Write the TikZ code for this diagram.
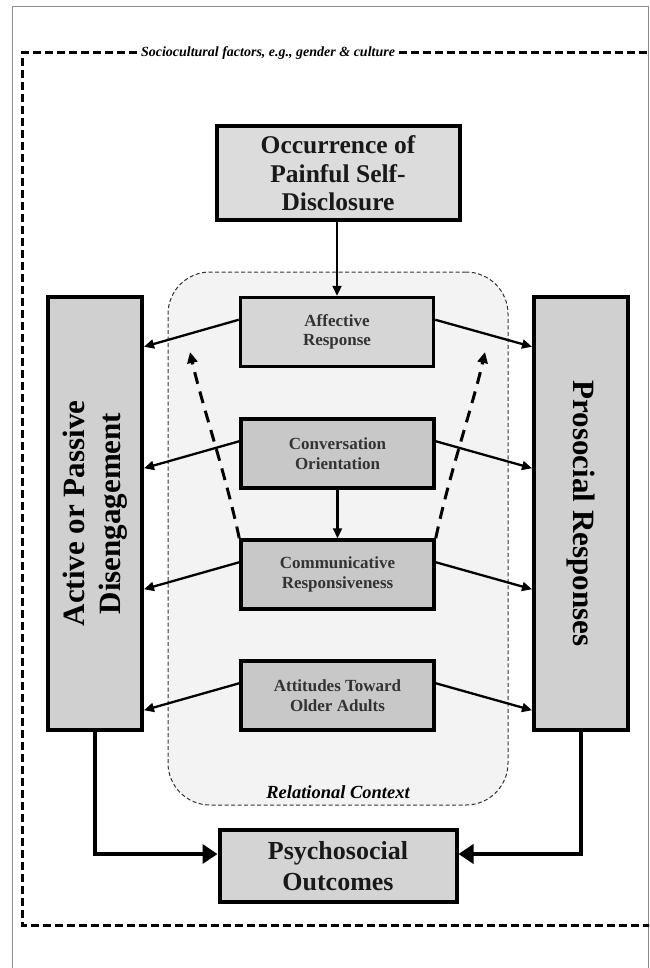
\documentclass[tikz,border=0pt]{standalone}
\usepackage{fontspec}
\setmainfont{Liberation Serif}
\usetikzlibrary{arrows.meta,calc}
\definecolor{topfill}{HTML}{DCDCDC}
\definecolor{sidefill}{HTML}{D0D0D0}
\definecolor{afffill}{HTML}{D6D6D6}
\definecolor{midfill}{HTML}{C8C8C8}
\definecolor{psyfill}{HTML}{D4D4D4}
\definecolor{relfill}{HTML}{F3F3F3}
\definecolor{midtext}{HTML}{333333}
\definecolor{framegray}{HTML}{8C8C8C}
\begin{document}
\begin{tikzpicture}[x=1pt,y=-1pt,
  bigbox/.style={draw=black, line width=4pt, inner sep=0pt, align=center, text=black!90},
  midbox/.style={draw=black, line width=3.5pt, inner sep=0pt, align=center,
    minimum width=193pt, minimum height=69pt, text=midtext,
    font=\fontsize{17}{19.5}\selectfont\bfseries},
  arr/.style={line width=2.3pt, -{Triangle[length=10pt,width=9pt]}},
  bigarr/.style={line width=4pt, -{Triangle[length=15pt,width=19pt]}},
  dasharr/.style={line width=3pt, dash pattern=on 12pt off 8pt, -{Triangle[length=11pt,width=10pt]}},
  outerdash/.style={line width=3pt, dash pattern=on 8pt off 4pt},
]
\useasboundingbox (0,0) rectangle (649,968);
\fill[white] (0,0) rectangle (649,968);
\clip (0,0) rectangle (649,968);

% thin outer frame
\draw[framegray, line width=1pt] (12,980) -- (12,7) -- (648,7) -- (648,980);

% sociocultural dashed frame
\node[inner sep=4pt, font=\fontsize{14}{17}\selectfont\bfseries\itshape] (soc) at (268,53)
  {Sociocultural factors, e.g., gender \& culture};
\draw[outerdash] (soc.west) -- (22,53) -- (22,925) -- (670,925);
\draw[outerdash] (soc.east) -- (670,53);

% relational context
\node[draw=black!80, line width=1pt, dash pattern=on 4pt off 2.5pt, fill=relfill,
  rounded corners=42pt, minimum width=340pt, minimum height=533pt] (rel) at (338,538.5) {};
\node[font=\fontsize{18.5}{22}\selectfont\bfseries\itshape] (reltxt) at (338,792) {Relational Context};

% boxes
\node[bigbox, fill=topfill, minimum width=243pt, minimum height=94pt,
  font=\fontsize{25.5}{28.5}\selectfont\bfseries] (top) at (338,173.5)
  {Occurrence of\\Painful Self-\\Disclosure};
\node[midbox, fill=afffill] (aff) at (337,332) {Affective\\Response};
\node[midbox, fill=midfill] (conv) at (337.5,453.5) {Conversation\\Orientation};
\node[midbox, fill=midfill] (comm) at (337.5,574.5) {Communicative\\Responsiveness};
\node[midbox, fill=midfill] (att) at (337.5,695.5) {Attitudes Toward\\Older Adults};

\node[bigbox, fill=sidefill, minimum width=94pt, minimum height=433pt] (left) at (95,513.5) {};
\node[rotate=90, align=center, font=\fontsize{31}{36}\selectfont\bfseries] (lefttxt) at (left)
  {Active or Passive\\Disengagement};
\node[bigbox, fill=sidefill, minimum width=94pt, minimum height=433pt] (right) at (581,513.5) {};
\node[rotate=-90, align=center, font=\fontsize{31}{36}\selectfont\bfseries] (righttxt) at (right)
  {Prosocial Responses};

\node[bigbox, fill=psyfill, minimum width=237pt, minimum height=72pt,
  font=\fontsize{26}{31}\selectfont\bfseries] (psy) at (338,866) {Psychosocial\\Outcomes};

% connectors
\draw[arr] (top.south -| aff.north) -- (aff.north);
\draw[arr] (conv.south) -- (comm.north);
\foreach \b in {aff,conv,comm,att}{
  \draw[arr] ($(\b.north west)+(0,24)$) -- ($(left.east |- \b.north west)+(0,51)$);
  \draw[arr] ($(\b.north east)+(0,24)$) -- ($(right.west |- \b.north east)+(0,51)$);
}

% dashed influences
\coordinate (dl) at (190,352);
\coordinate (dr) at (485,352);
\draw[dasharr] (comm.north west) .. controls (226,475) and (202,405) .. (dl);
\draw[dasharr] (comm.north east) .. controls (449,475) and (473,405) .. (dr);

% outcomes
\draw[bigarr] (left.south) |- ($(psy.west)+(0,-12)$);
\draw[bigarr] (right.south) |- ($(psy.east)+(0,-12)$);
\end{tikzpicture}
\end{document}
